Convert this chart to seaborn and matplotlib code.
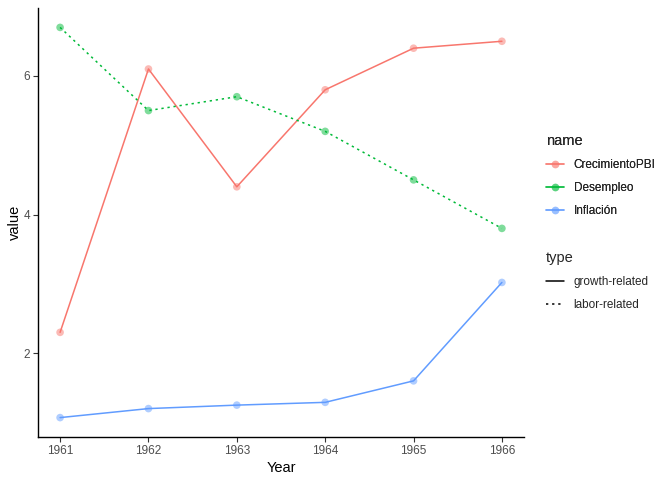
import matplotlib
matplotlib.use("Agg")
import matplotlib.pyplot as plt
from matplotlib.lines import Line2D
import seaborn as sns
import pandas as pd

years = [1961, 1962, 1963, 1964, 1965, 1966]
crecimiento = [2.3, 6.1, 4.4, 5.8, 6.4, 6.5]
desempleo = [6.7, 5.5, 5.7, 5.2, 4.5, 3.8]
inflacion = [1.07, 1.2, 1.25, 1.29, 1.6, 3.02]
names = ["CrecimientoPBI", "Desempleo", "Inflación"]
types = {"CrecimientoPBI": "growth-related", "Desempleo": "labor-related", "Inflación": "growth-related"}
colors = {"CrecimientoPBI": "#F8766D", "Desempleo": "#00BA38", "Inflación": "#619CFF"}

rows = []
for n, vals in zip(names, [crecimiento, desempleo, inflacion]):
    for y, v in zip(years, vals):
        rows.append({"Year": y, "value": v, "name": n, "type": types[n]})
df = pd.DataFrame(rows)

sns.set_theme(style="ticks")
plt.rcParams["font.family"] = ["Liberation Sans", "DejaVu Sans"]

fig = plt.figure(figsize=(6.72, 4.8), dpi=100)
ax = fig.add_axes([38/672, 1-437/480, (524-38)/672, (437-8)/480])

lw = 1.1
dash_styles = {"growth-related": "", "labor-related": (1.5, 2.5)}
sns.lineplot(data=df, x="Year", y="value", hue="name", style="type",
             palette=colors, dashes=dash_styles, linewidth=lw, ax=ax, legend=False)
sns.scatterplot(data=df, x="Year", y="value", hue="name", palette=colors,
                alpha=0.5, s=30, linewidth=0, ax=ax, legend=False, zorder=3)

ax.set_xlim(1960.75, 1966.25)
ax.set_ylim(0.79, 6.98)
ax.set_xticks(years)
ax.set_xticklabels([str(y) for y in years])
ax.set_yticks([2, 4, 6])
ax.tick_params(axis="both", labelsize=8.45, labelcolor="#4D4D4D", color="#333333",
               length=3.5, width=0.8, pad=2)
for s in ["top", "right"]:
    ax.spines[s].set_visible(False)
for s in ["left", "bottom"]:
    ax.spines[s].set_color("black")
    ax.spines[s].set_linewidth(1.0)
ax.set_xlabel("Year", fontsize=10.56, color="black", labelpad=3)
ax.set_ylabel("value", fontsize=10.56, color="black", labelpad=1)

h1 = []
for n in names:
    h1.append((Line2D([0], [0], color=colors[n], lw=lw, alpha=0.8),
               Line2D([0], [0], color=colors[n], lw=0, marker="o", markersize=5.5,
                      markeredgewidth=0, alpha=0.4)))
leg1 = fig.legend(h1, names, title="name", loc="upper left",
                  bbox_to_anchor=(535/672, 1-123/480), frameon=False,
                  fontsize=8.45, title_fontsize=10.56, handlelength=1.6,
                  handletextpad=0.8, labelspacing=0.95, alignment="left")
fig.add_artist(leg1)
h2 = [Line2D([0], [0], color="black", lw=lw),
      Line2D([0], [0], color="black", lw=lw, dashes=(1.5, 2.5))]
fig.legend(h2, ["growth-related", "labor-related"], title="type", loc="upper left",
           bbox_to_anchor=(535/672, 1-240/480), frameon=False,
           fontsize=8.45, title_fontsize=10.56, handlelength=1.6,
           handletextpad=0.8, labelspacing=0.95, alignment="left")

fig.savefig("out.png", dpi=100)
